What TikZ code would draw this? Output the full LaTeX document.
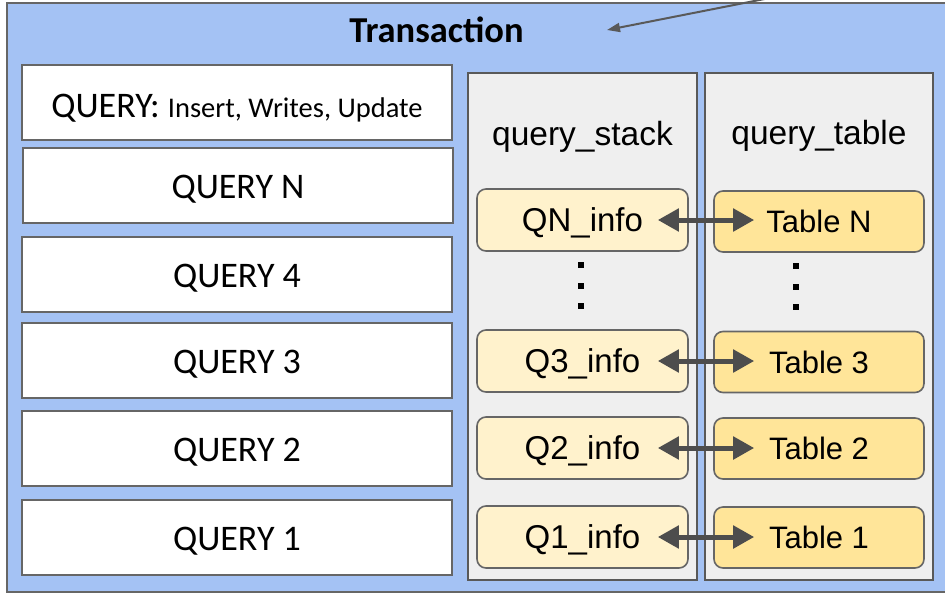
\documentclass[tikz,border=0pt]{standalone}
\usepackage{fontspec}
\setmainfont{Carlito}
\newfontfamily\arialish{Liberation Sans}
\usetikzlibrary{arrows.meta}

\definecolor{txblue}{HTML}{A4C2F4}
\definecolor{edgegray}{HTML}{666666}
\definecolor{colgray}{HTML}{EFEFEF}
\definecolor{coledge}{HTML}{595959}
\definecolor{infofill}{HTML}{FFF2CC}
\definecolor{tablefill}{HTML}{FFE599}
\definecolor{arrowgray}{HTML}{4D4D4D}

\tikzset{
  querybox/.style={draw=edgegray, line width=2pt, fill=white,
    minimum width=430pt, minimum height=75pt, inner sep=0pt,
    font=\fontsize{36}{40}\selectfont, text height=26pt, text depth=0pt},
  column/.style={draw=coledge, line width=2pt, fill=colgray,
    minimum width=229pt, minimum height=507pt, inner sep=0pt},
  colhead/.style={font=\arialish\fontsize{33.5}{38}\selectfont, anchor=base, inner sep=0pt},
  infobox/.style={draw=edgegray, line width=1.6pt, fill=infofill, rounded corners=9pt,
    minimum width=211pt, minimum height=62pt, inner sep=0pt,
    font=\arialish\fontsize{33}{36}\selectfont, text height=25pt, text depth=3pt},
  tablebox/.style={infobox, fill=tablefill, minimum width=210pt, minimum height=61pt,
    font=\arialish\fontsize{31}{34}\selectfont, text height=25pt, text depth=3pt},
  link/.style={draw=arrowgray, line width=5pt,
    {Triangle[length=21pt, width=22pt]}-{Triangle[length=21pt, width=22pt]}},
  dot/.style={fill=black, minimum size=6pt, inner sep=0pt}
}

\begin{document}
\begin{tikzpicture}[x=1pt, y=-1pt]
  \useasboundingbox (0,0) rectangle (945,595);
  \clip (0,0) rectangle (945,595);

  % transaction frame
  \draw[edgegray, line width=2pt, fill=txblue] (7,3) rectangle (980,592);
  \node[font=\bfseries\fontsize{36.5}{40}\selectfont, anchor=base] (title) at (436.5,42) {Transaction};

  % pointer into the frame
  \coordinate (ptrfrom) at (800,-8);
  \coordinate (ptrto) at (607,30);
  \draw[coledge, line width=2pt, -{Triangle[length=13pt, width=9pt]}] (ptrfrom) -- (ptrto);

  % query list
  \node[querybox, text height=29pt] (q0) at (237,102.5) {QUERY: {\fontsize{28.5}{32}\selectfont Insert, Writes, Update}};
  \node[querybox] (qN) at (238,185.5) {QUERY N};
  \node[querybox] (q4) at (237,274.5) {QUERY 4};
  \node[querybox] (q3) at (237,360.5) {QUERY 3};
  \node[querybox] (q2) at (237,448.5) {QUERY 2};
  \node[querybox] (q1) at (237,537) {QUERY 1};

  % the two columns
  \node[column] (stack) at (582.5,326.5) {};
  \node[column, minimum width=228pt] (table) at (819,326.5) {};
  \node[colhead] (stackhead) at (582.5,145) {query\_stack};
  \node[colhead] (tablehead) at (819,144) {query\_table};

  % entries
  \node[infobox] (iN) at (582.5,220) {QN\_info};
  \node[infobox] (i3) at (582.5,361) {Q3\_info};
  \node[infobox] (i2) at (582.5,448) {Q2\_info};
  \node[infobox] (i1) at (582.5,537) {Q1\_info};

  \node[tablebox] (tN) at (819,221.5) {Table N};
  \node[tablebox] (t3) at (819,362) {Table 3};
  \node[tablebox] (t2) at (819,448.5) {Table 2};
  \node[tablebox] (t1) at (819,537.5) {Table 1};

  % elision dots
  \node[dot] (sd1) at (581,265) {};
  \node[dot] (sd2) at (581,285.5) {};
  \node[dot] (sd3) at (581,306) {};
  \node[dot] (td1) at (796,266) {};
  \node[dot] (td2) at (796,286.5) {};
  \node[dot] (td3) at (796,307) {};

  % links between stack entries and tables
  \foreach \k in {N,3,2,1}{
    \draw[link] ([xshift=-31pt]i\k.east) -- ([xshift=41pt]t\k.west |- i\k.east);
  }
\end{tikzpicture}
\end{document}
